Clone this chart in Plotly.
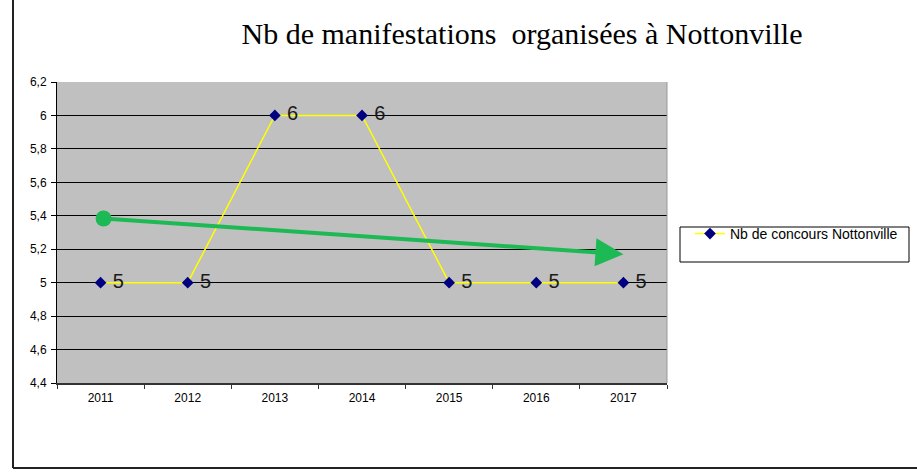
import plotly.graph_objects as go

years = ["2011", "2012", "2013", "2014", "2015", "2016", "2017"]
nb_concours = [5, 5, 6, 6, 5, 5, 5]
series_name = "Nb de concours Nottonville"
title_text = "Nb de manifestations  organisées à Nottonville"
trend_start = 5.385
trend_end = 5.17

fig = go.Figure()
fig.add_trace(go.Scatter(
    x=years, y=nb_concours, name=series_name,
    mode="lines+markers+text",
    line=dict(color="#FFFF00", width=1.5),
    marker=dict(symbol="diamond", size=9, color="#000080"),
    text=[" " + str(v) for v in nb_concours],
    textposition="middle right",
    textfont=dict(family="Liberation Sans, Arial", size=20, color="#1a1a1a"),
    cliponaxis=False,
))

fig.add_annotation(
    x=len(years) - 1, y=trend_end, ax=0, ay=trend_start,
    xref="x", yref="y", axref="x", ayref="y",
    showarrow=True, text=" ",
    arrowhead=2, arrowsize=1.4, arrowwidth=4, arrowcolor="#1DB954",
    arrowside="end+start", startarrowhead=6, startarrowsize=1.0,
)

# outer frame (left and bottom edges visible)
fig.add_shape(type="line", xref="paper", yref="paper",
              x0=-44/610, x1=-44/610, y0=-85/301, y1=1.3,
              line=dict(color="#222222", width=2))
fig.add_shape(type="line", xref="paper", yref="paper",
              x0=-44/610, x1=1.5, y0=-85/301, y1=-85/301,
              line=dict(color="#222222", width=2))
# legend box
fig.add_shape(type="rect", xref="paper", yref="paper",
              x0=(680-57)/610, x1=(909-57)/610,
              y0=(383-262)/301, y1=(383-227)/301,
              line=dict(color="#000000", width=1), fillcolor="rgba(0,0,0,0)")
# right edge of plot area
fig.add_shape(type="line", xref="paper", yref="paper",
              x0=1, x1=1, y0=0, y1=1, line=dict(color="#999999", width=1))

fig.update_layout(
    width=917, height=476,
    margin=dict(l=57, r=250, t=82, b=93, autoexpand=False),
    paper_bgcolor="white", plot_bgcolor="#C0C0C0",
    separators=", ",
    title=dict(text=title_text, x=522/917, xanchor="center", xref="container",
               y=1-33/476, yanchor="middle",
               font=dict(family="Liberation Serif, Times New Roman", size=30, color="#000000")),
    showlegend=True,
    legend=dict(x=(690-57)/610, y=(383-218)/301, xanchor="left", yanchor="top",
                bgcolor="rgba(0,0,0,0)", borderwidth=0,
                font=dict(family="Liberation Sans, Arial", size=14, color="#000000"),
                itemwidth=30),
    xaxis=dict(type="category", range=[-0.5, 6.5], showgrid=False,
               tickson="boundaries", ticks="outside", ticklen=4, tickcolor="#333333",
               showline=True, linecolor="#333333", linewidth=2,
               ticklabelstandoff=3,
               tickfont=dict(family="Liberation Sans, Arial", size=12, color="#000000"),
               zeroline=False),
    yaxis=dict(range=[4.4, 6.2], dtick=0.2, tick0=4.4,
               showgrid=True, gridcolor="#000000", gridwidth=1,
               ticks="outside", ticklen=5, tickcolor="#000000",
               showline=True, linecolor="#000000", linewidth=1,
               ticklabelstandoff=2,
               tickfont=dict(family="Liberation Sans, Arial", size=12, color="#000000"),
               zeroline=False),
)

fig.write_html("out.html", config={"displayModeBar": False},
               post_script="document.body.style.margin='0';")
